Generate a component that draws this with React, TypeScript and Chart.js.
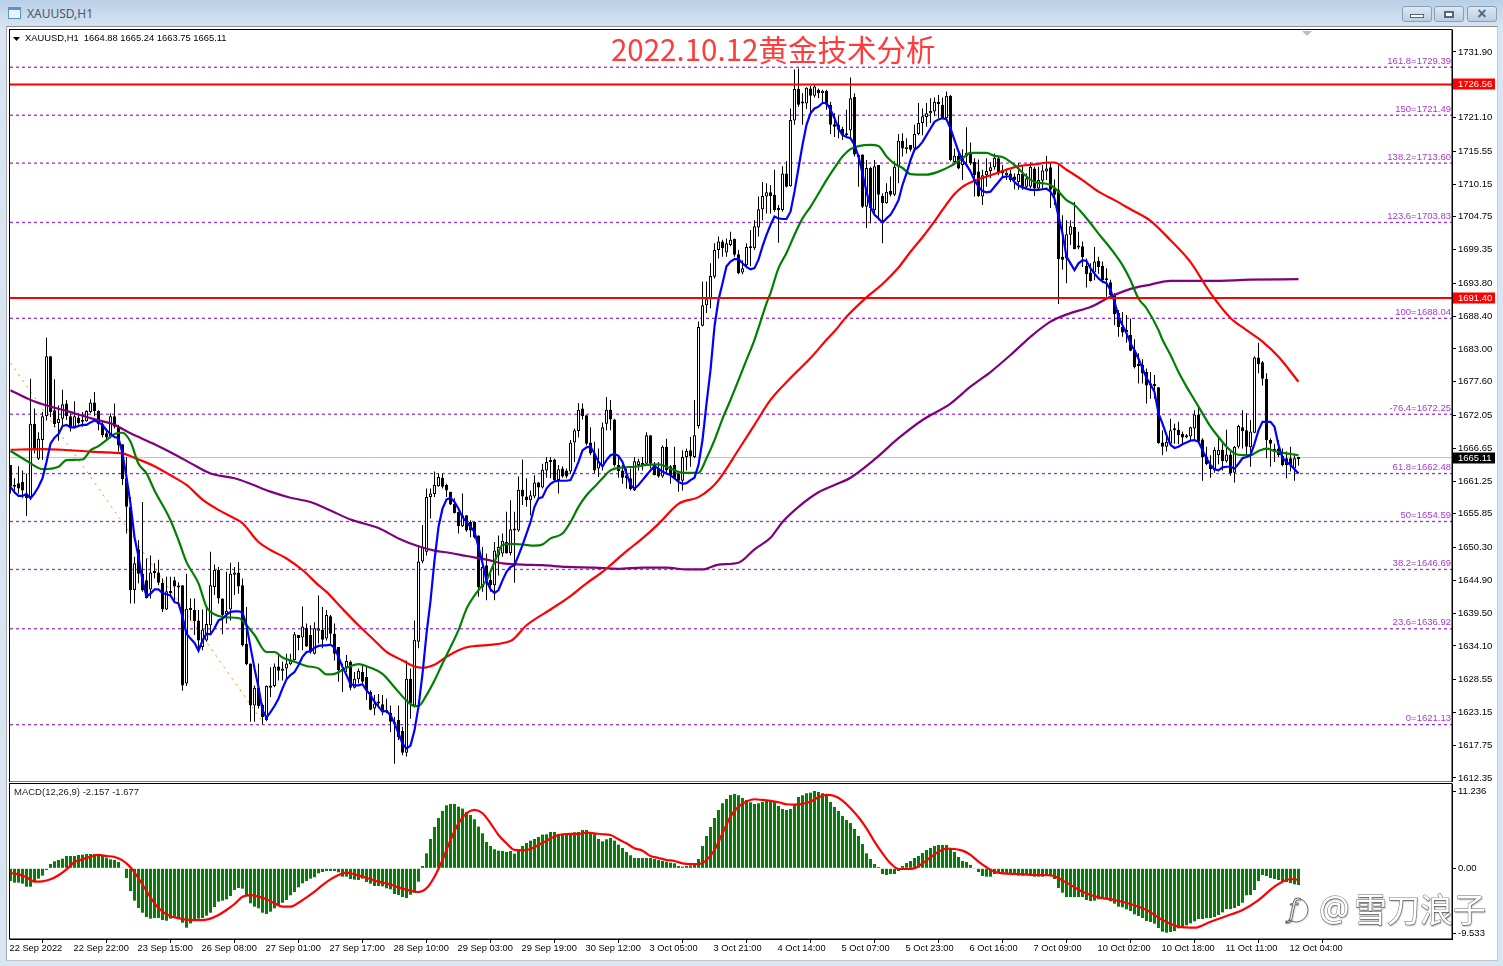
import React, { useEffect, useRef } from "react";
import { Chart, registerables } from "chart.js";

Chart.register(...registerables);

const opens = [
1663.9,1660.6,1660.9,1661.1,1659.2,1658.6,1670.7,1664.9,1668,1671.9,
1681.8,1672.9,1670.8,1671.5,1674,1671.9,1670.2,1671.7,1671.3,1671.1,
1672.6,1674.2,1672.8,1670.6,1669.1,1668.5,1671.9,1670.2,1667.3,1661.7,
1657,1643.3,1650,1646,1644.9,1643.4,1646.1,1646.2,1644.5,1640.1,
1642.8,1644.9,1643.7,1644.1,1627.9,1640.4,1640,1638.3,1633.9,1635,
1637.5,1643.8,1646.6,1641.9,1639.3,1640.1,1645.8,1646.2,1644.1,1634.4,
1631.2,1624.3,1627.2,1624.4,1621.9,1627.2,1627.5,1630.7,1630,1630.4,
1631.1,1631.8,1635.9,1635.5,1637.1,1635.9,1632.8,1636.6,1636.7,1635.3,
1639,1636.1,1633.9,1630.2,1630.6,1631.5,1627.2,1628.6,1629.8,1629,
1626.5,1623.8,1624.9,1624.5,1623.5,1623.1,1621.6,1621.9,1620.1,1616.5,
1628.7,1624.3,1634.8,1648,1649.6,1658.6,1659.1,1660.4,1661.8,1660.6,
1659.5,1657.5,1656.2,1653.8,1655.6,1654.5,1654.5,1652.3,1643.8,1647.4,
1645,1644.1,1649,1649.3,1651.2,1649.4,1653.1,1653.1,1659.8,1658.7,
1658.1,1658.7,1661,1660.2,1663,1664.4,1664.8,1661.4,1663.3,1663,
1662.8,1667.6,1669.5,1673.2,1672.1,1667.6,1665.8,1663.3,1663.6,1670.7,
1673,1671.4,1663.9,1663,1662.2,1661.7,1659.7,1663.9,1664.2,1664.1,
1668.8,1664.1,1663.3,1662,1666.9,1663.7,1663.9,1662.5,1661.3,1665.2,
1666.3,1665.2,1670.3,1686.8,1690.2,1691.2,1694.9,1699.3,1700.7,1698.9,
1700.1,1701.1,1698.6,1695.6,1696.8,1699.6,1699.6,1703,1706,1708.1,
1708.8,1708.4,1705.9,1705.9,1711.9,1709.8,1720.6,1725.8,1723.6,1723.4,
1725.9,1724.7,1725.7,1725.1,1725.5,1723.2,1720,1719.9,1719.2,1718.5,
1719,1724.5,1714.7,1715,1706.4,1712.8,1705.9,1713.3,1708.2,1707,
1709,1708.4,1713,1717.3,1716.2,1716.6,1716,1718.4,1720.2,1721.2,
1721.8,1722.1,1723.7,1723.2,1721,1724.7,1713.8,1714.8,1713.3,1714.7,
1715.2,1713.8,1712.2,1708.1,1711.6,1712.3,1712.9,1714.4,1712.5,1711.6,
1711.9,1711.4,1710.5,1711.8,1709.7,1709.7,1712.7,1709.4,1710.7,1712.2,
1712.9,1709.4,1709.2,1698.2,1697.9,1701.8,1703.1,1699.9,1699.9,1696.7,
1695.6,1695.6,1697.5,1696.7,1694.6,1694,1691.9,1688.9,1686.6,1685.8,
1685.3,1682.8,1680.2,1680.4,1679.2,1677,1676.9,1676.7,1667.6,1666.9,
1667.4,1669.6,1669.7,1669,1668.4,1668.6,1669.9,1672.2,1668.1,1665.3,
1663.9,1663,1665.5,1666.4,1664.5,1665.6,1662.6,1666.9,1670.1,1669.6,
1666.8,1669.2,1681.6,1680.8,1678.1,1668,1666.4,1666.6,1665.4,1665,
1665,1663.3,1664.88];

const closes = [
1660.4,1660.3,1660,1659.7,1658.4,1670.7,1666.3,1668.2,1671.9,1681.8,
1672.6,1670.6,1671.5,1673.9,1671.9,1670.1,1671.9,1670.8,1671,1672.8,
1674.2,1672.8,1670.6,1668.8,1668.4,1671.9,1670.2,1667.2,1661.6,1657,
1643.3,1647.7,1646,1643.3,1642,1646.2,1646.2,1644.5,1640.1,1643.1,
1643.1,1643.9,1644,1627.6,1640.2,1640,1638.2,1635,1636.8,1637.7,
1644.1,1646.6,1641.9,1639.2,1639.9,1646,1646.2,1643.9,1634.2,1631.1,
1624.3,1627.2,1624.2,1622.4,1627.5,1627.6,1630.7,1630,1630.4,1631.2,
1631.7,1636,1635.4,1637.3,1634,1633.1,1637,1637,1635.1,1639.2,
1636.1,1632.8,1630.1,1630,1631.6,1627.2,1628.7,1630,1628.2,1626.8,
1623.6,1624.6,1624.6,1623.2,1623.2,1621.6,1621.3,1619.1,1616.5,1628.7,
1624.6,1635.1,1648,1650.4,1658.6,1659.2,1660.6,1661.9,1660.3,1659.7,
1657.4,1656,1653.8,1655.6,1653.1,1653.1,1652,1643.8,1647.1,1644.9,
1644.1,1649.8,1650.4,1651.4,1649.3,1653.3,1653.3,1659.8,1658.7,1658.1,
1658.9,1661,1660.2,1663.1,1664.4,1664.7,1661.4,1663.2,1662,1662,
1667.6,1669.6,1673,1671.9,1667.4,1665.8,1663,1664.5,1670.1,1673,
1671.4,1663.9,1662.9,1661.8,1661.7,1659.9,1664.5,1664.5,1663.9,1668.8,
1664.1,1662.2,1662,1666.9,1663,1662.2,1661.7,1661.3,1665.2,1666.2,
1665.3,1668.8,1686.6,1690.2,1691.2,1695,1699.3,1700.7,1699.6,1700.4,
1701,1698.5,1695.5,1696.3,1699.8,1699.8,1703.2,1706,1708.2,1708.8,
1708.2,1705.9,1706,1711.9,1709.7,1720.7,1725.8,1723.2,1723.4,1726,
1724.7,1726.2,1725.1,1725.5,1723.2,1719.9,1719.6,1719.1,1718.2,1718.2,
1724.3,1715,1714.6,1706.4,1712.8,1706.2,1713.1,1708.4,1707,1708.9,
1708.4,1713,1717.3,1716,1715.9,1715.8,1718.4,1720.2,1721.3,1721.8,
1722.2,1723.7,1723.3,1721,1724.7,1714.1,1714.8,1712.7,1714.7,1715.3,
1713.6,1711.6,1708.2,1711.6,1712.3,1712.9,1714.5,1712,1711.9,1712,
1710.8,1710.8,1711.8,1709.7,1711.1,1713,1709.4,1710.8,1712.4,1712.7,
1709.2,1708.4,1697.8,1697.7,1701.9,1703.2,1699.4,1699.7,1698.1,1695.3,
1694.2,1697.4,1696.5,1694.3,1694.3,1691.9,1688.7,1686.6,1685.7,1686.1,
1682.7,1680,1680.5,1679,1677,1677.2,1677,1667.5,1666.9,1667.7,
1669.6,1669.8,1668.8,1668.4,1668.8,1670.1,1672.2,1667.7,1665.2,1664,
1663.2,1666.4,1666.4,1664.5,1665.6,1662.5,1666.9,1670.3,1669.5,1666.9,
1669.4,1681.6,1680.5,1678.1,1668,1667.4,1666.2,1665.5,1663.9,1663.9,
1663.9,1665,1665.11];

const highs = [
1663.9,1661.7,1663.7,1663,1662.5,1678.1,1673.2,1669.3,1672.6,1684.9,
1681.8,1678,1673.7,1676.3,1674.6,1672.4,1674.4,1672.4,1672.6,1672.9,
1674.7,1675.9,1672.9,1671.3,1669.9,1672.4,1674,1670.5,1667.3,1665.2,
1658.6,1648.8,1651.5,1657.8,1648.5,1649,1647.7,1648.3,1645.2,1645.5,
1645.5,1645.5,1644.6,1644.1,1646,1641.9,1641.9,1640,1640.1,1640.5,
1649.6,1647.5,1647.1,1641.9,1646.3,1647.8,1647.1,1647.9,1645.2,1640.5,
1631.2,1627.6,1631.2,1624.6,1627.6,1630.6,1631.2,1632.6,1631.5,1632.8,
1632.8,1636.4,1635.9,1640.6,1637.8,1637.5,1638,1642.4,1640.5,1640,
1639.2,1637.8,1633.9,1631.2,1632.6,1631.7,1629.8,1630.4,1630.9,1630.7,
1626.8,1626,1626.2,1626,1625.4,1624.3,1622.4,1624.3,1620.8,1631.7,
1630.4,1638.3,1650.7,1654,1660,1660,1662.8,1662.5,1662.5,1660.8,
1659.5,1658.4,1656.2,1659.2,1655.6,1654.8,1654.5,1652.3,1650.4,1649.3,
1646.3,1651.2,1652.3,1652.6,1656.2,1658.1,1656.2,1662,1664.8,1661.7,
1659.7,1662.2,1661.1,1664.1,1665.2,1665.2,1664.9,1663.9,1663.7,1663.3,
1668,1669.9,1674.1,1674,1672.1,1670.1,1667.7,1666.6,1670.9,1675.1,
1674.6,1671.5,1665.5,1663.9,1663.3,1663.3,1665.2,1664.9,1665.2,1669.3,
1668.8,1664.4,1664.4,1667.1,1668.2,1663.9,1666.9,1662.5,1666.3,1666.6,
1668.5,1674.6,1687.5,1694.1,1694.1,1697.1,1700.4,1701.5,1701,1701.2,
1702.3,1701.2,1699.3,1697.6,1700.4,1702.6,1704.2,1708.1,1710.5,1710.3,
1710,1712.5,1706.7,1713.1,1713.9,1722.6,1729,1729.2,1725.1,1726.1,
1726.3,1726.5,1725.9,1725.7,1725.7,1723.7,1721.8,1721.4,1719.6,1722.4,
1727.7,1725.1,1715,1715,1714.1,1713,1714.1,1713.3,1708.6,1710.3,
1711.4,1713.9,1718.4,1718.5,1717.7,1716.6,1719.9,1723.5,1722.6,1723.5,
1724.3,1724.4,1724.8,1724.4,1725.4,1724.8,1716,1715.9,1715.9,1719.5,
1717,1714.4,1714.2,1712.5,1714.4,1713.8,1715.2,1714.7,1713.3,1712.7,
1712.5,1711.9,1713.6,1713.3,1711.9,1713.7,1713,1713,1713.3,1714.8,
1713.6,1710.9,1713.5,1705,1704.2,1704.2,1707.2,1702.3,1700.7,1697.9,
1697.1,1699.8,1698.2,1697.4,1696.3,1694.4,1692.2,1689.4,1689.1,1688.6,
1688,1684.6,1682.3,1681.3,1679.8,1679.2,1678.7,1676.7,1669.6,1669.1,
1671.5,1670.7,1671,1669.4,1669,1670.2,1672.9,1673.7,1668.3,1666.9,
1665.5,1666.8,1668.6,1667.4,1669.7,1666.1,1667,1670.5,1672.9,1672.4,
1671.3,1681.8,1684,1681,1679,1668.3,1667.4,1668,1666.6,1666.1,
1666.9,1665.5,1665.24];

const lows = [
1659.2,1659.2,1659.2,1658.4,1655.5,1658.1,1665.8,1664.7,1664.7,1671.2,
1671.8,1670.1,1667.9,1670.2,1671.3,1669.4,1669.9,1670.5,1670.2,1671,
1672.4,1671.9,1669.6,1668.4,1668,1668.3,1669.9,1666.1,1660.6,1652.6,
1641.1,1641.1,1644.4,1643,1641.9,1641.9,1645.2,1644.1,1639.7,1640,
1642.5,1641.3,1641,1626.7,1627.5,1638.3,1635.9,1633.1,1633.4,1634.8,
1635.9,1642.5,1641.1,1636,1637.8,1638.3,1642.5,1642.7,1634,1630.9,
1621.6,1621.6,1623.8,1621.2,1621.7,1625.7,1627.3,1628.4,1628.4,1628.7,
1630.9,1631.7,1633.4,1633.4,1633.9,1632.8,1632.7,1634.5,1633.7,1635,
1634.5,1631.7,1628.2,1626.5,1629.8,1626.8,1627.1,1627.9,1627.9,1625.2,
1623.5,1622.7,1624.3,1622.7,1623,1619.9,1614.7,1618.6,1616.1,1615.9,
1622.1,1624,1633.7,1647.7,1649,1655.1,1658.6,1660.3,1660,1658.6,
1657.3,1655.9,1652.6,1653.7,1652.9,1652,1651.8,1642.2,1643,1641.6,
1643,1641.6,1645.7,1648.8,1649.3,1649,1644.5,1652.9,1657.3,1657,
1655.6,1658.4,1658.4,1660,1661.8,1661.7,1661.3,1659.2,1661.8,1661.7,
1662.5,1664.4,1668.4,1671.4,1667.1,1665.5,1662.5,1661.9,1663,1669.6,
1669.6,1663.6,1661.8,1660.8,1660,1659.7,1659.6,1663,1663,1664,
1663.3,1662.2,1661.8,1661.8,1662.5,1660.8,1661.5,1659.5,1659.7,1663,
1663.6,1665,1669.9,1686.7,1688.9,1689.7,1694.6,1697.9,1698.2,1698.2,
1699.9,1698.2,1695.3,1695.3,1696.3,1696.6,1699.3,1701.5,1704.2,1705.3,
1705.3,1705.6,1700.5,1705.6,1709.6,1709.7,1719.9,1722.9,1719.9,1722.5,
1721.5,1724.4,1724.3,1723.5,1722.4,1718.4,1717.9,1717.7,1717.4,1717.7,
1717.7,1714.7,1709.7,1706.2,1702.9,1703.7,1705.1,1704.2,1700.4,1706.9,
1708.1,1708.2,1710.3,1714.7,1715.2,1715.5,1715.9,1718.2,1718.2,1719.6,
1720.2,1721.3,1721,1721,1720.8,1713.9,1713.6,1712.6,1710.8,1713,
1713.3,1708.1,1708,1706.7,1709.7,1711.1,1712.5,1711.6,1711.1,1710.8,
1710.5,1709.3,1709.2,1709.2,1709.3,1709.4,1708.2,1709.2,1709.4,1710.8,
1706.2,1706.7,1690.4,1696.1,1693.8,1700.1,1699.4,1699.4,1696.5,1693.1,
1694.1,1694.3,1695.4,1693.9,1691.6,1691.6,1686.9,1685,1685,1684,
1682.6,1679.8,1677.3,1677.3,1674,1674.8,1674.8,1667.4,1665.5,1666.1,
1667.2,1667.4,1667.3,1667.4,1668.3,1668,1668,1667.4,1661.3,1663.9,
1661.8,1662.6,1664,1663,1664.3,1662.1,1661,1666.6,1666.6,1665.2,
1663.6,1669.1,1679,1677,1665,1663.6,1664.4,1665.2,1663.7,1661.7,
1662.8,1661.3,1663.75];

const ma5 = [
1660.3,1659.4,1658.8,1658.8,1659.1,1658.4,1659.2,1660.3,1661.7,1664.4,
1667.4,1668.4,1669,1670.3,1670.5,1670.1,1670.1,1670.3,1670.5,1670.5,
1670.9,1671.2,1670.9,1670.5,1669.6,1669,1668.5,1668.3,1665.8,1661.9,
1657.5,1652,1648.8,1644.9,1642.2,1642.7,1643.4,1643.4,1642.8,1642.6,
1642.4,1641.3,1641.1,1638.9,1636.1,1635.3,1634.6,1633.3,1635,1636.1,
1636,1637,1638.3,1638.6,1639.2,1639.7,1639.8,1639.8,1639.6,1637.5,
1633.9,1630.4,1627.3,1623.5,1622.3,1623.2,1624.2,1625.4,1627.1,1628.6,
1629.3,1629.8,1630.9,1632.3,1633.1,1633.2,1633.8,1634.1,1634.2,1634.2,
1634.3,1633.8,1632.3,1630.6,1629.3,1627.8,1627.6,1627.6,1627.8,1626.8,
1626,1624.9,1624.1,1623.3,1623.4,1622.7,1621.3,1619.7,1618,1617.2,
1617.7,1620.2,1624.1,1629.5,1636.1,1641.5,1648.2,1653.7,1656.7,1658.2,
1658.5,1657.8,1656.7,1655.3,1654.5,1653.7,1652.9,1650.4,1647.7,1644.9,
1643.4,1642.8,1643.3,1644.9,1646.3,1647.1,1647.4,1649,1650.7,1652.6,
1654.5,1657,1658.4,1658.6,1660,1660.8,1661.2,1661.3,1661.3,1661.3,
1661.4,1662.8,1664.4,1666.3,1666.8,1666.9,1665.8,1664.4,1663.7,1664.7,
1665.5,1665.7,1665.4,1664.4,1662.5,1660.6,1660,1660.6,1661.4,1662.2,
1663,1663.7,1663.3,1662.8,1662.5,1662.2,1661.7,1661.1,1660.8,1660.9,
1661.4,1661.8,1663.9,1668,1674,1679.5,1686.7,1691.1,1693.8,1696.6,
1697.4,1697.8,1697.8,1697.1,1696.5,1696.1,1696.3,1697.7,1699.9,1701.8,
1703.4,1704.8,1704.5,1704.4,1704.4,1705.6,1708.9,1712.8,1716.6,1719.9,
1721.8,1722.6,1722.9,1723.5,1723.5,1722.4,1721,1719.3,1718.2,1717.9,
1717.7,1716.6,1714.7,1711.9,1708.9,1706.4,1705.1,1704.5,1703.8,1704.5,
1705.1,1706.2,1707.5,1710,1711.9,1714.1,1715.8,1716.3,1717.1,1718.2,
1719.3,1720.4,1720.8,1721,1720.8,1719.3,1717.4,1715.5,1714.1,1713.3,
1712.2,1710.8,1709.7,1709,1708.8,1708.9,1709.7,1710.5,1711.3,1711.4,
1711.4,1710.5,1709.9,1709.6,1709.4,1709.2,1709.2,1709.2,1709.3,1709.4,
1708.9,1707.8,1704.8,1702,1698.2,1697.1,1696,1697.1,1697.6,1697.5,
1696.3,1695.4,1694.6,1694.1,1693.8,1692.7,1690.8,1688.3,1686.9,1685.6,
1683.9,1682.8,1681.4,1679.8,1678.2,1677.2,1675.9,1672.4,1670.7,1668.8,
1667.2,1666.7,1666.9,1667.3,1667.6,1667.9,1668,1667.7,1666.3,1665,
1663.9,1663.2,1663,1663.5,1663.6,1663.6,1663.3,1664.1,1665,1665.2,
1665.5,1667.4,1669.6,1671,1671,1671,1670.2,1667.2,1665,1664.4,
1663.9,1663.2,1662.5];

const ma20: [number, number][] = [
[0,1666.2],[4,1664.6],[8,1663.2],[12,1663.6],[14,1664.7],[18,1664.8],[20,1666.3],[22,1667],[24,1668],[26,1669],[28,1669.2],
[30,1667.7],[32,1664.1],[34,1662.5],[36,1659.7],[40,1654.8],[42,1651.5],[44,1647.9],[47,1644.4],[49,1640.5],[50,1639.7],
[54,1638.8],[57,1638.7],[59,1637.5],[61,1635.9],[64,1633.1],[66,1633.1],[68,1632.2],[71,1631.5],[74,1630.8],[77,1630.4],
[79,1629.4],[81,1629.5],[84,1630.5],[87,1631.1],[90,1630.5],[93,1629.5],[96,1627.3],[99,1625.1],[101,1624.2],[102,1624.2],
[104,1626],[106,1628.4],[108,1631.2],[110,1633.9],[112,1636.7],[114,1640.2],[117,1643.3],[119,1644.9],[121,1647.9],[123,1650.7],
[125,1650.9],[128,1650.8],[131,1650.6],[133,1650.8],[135,1651.8],[138,1652.6],[140,1654.5],[142,1657],[144,1658.9],[146,1660.3],
[148,1661.7],[150,1663],[153,1663.5],[156,1663.6],[159,1663.9],[162,1664],[165,1663.3],[168,1662.6],[172,1662.6],[174,1665],
[176,1668],[178,1671.5],[180,1674.6],[184,1681.2],[186,1684.5],[189,1690.5],[190,1692.2],[192,1696.3],[194,1698.8],[196,1701.8],
[198,1704.5],[200,1706.4],[202,1708.6],[204,1710.8],[206,1712.8],[208,1714.7],[210,1715.9],[212,1716.4],[215,1716.6],[217,1716.4],
[219,1714.7],[221,1713.5],[223,1712.8],[225,1711.8],[229,1711.7],[232,1712.2],[235,1713.1],[238,1714.4],[240,1715.3],[244,1715.3],
[246,1714.8],[248,1714.6],[250,1713.8],[252,1712.7],[254,1711.4],[256,1710.5],[258,1710.3],[260,1710],[262,1708.9],[264,1707.5],
[266,1706.7],[268,1705.3],[270,1703.7],[272,1702],[274,1700.4],[276,1698.7],[278,1696.8],[280,1694.3],[282,1691.3],[284,1689.7],
[287,1686.1],[288,1684.5],[290,1682],[292,1679.2],[294,1676.8],[296,1674.6],[298,1672.4],[300,1670.2],[302,1668.5],[304,1666.9],
[306,1665.8],[308,1665.5],[310,1665.5],[312,1666.2],[314,1666.6],[316,1666.2],[318,1665.9],[320,1665.7],[322,1665.5]];

const ma60: [number, number][] = [
[0,1666.4],[8,1666.5],[13,1666.4],[20,1666.1],[26,1665.9],[28,1665.8],[32,1664.8],[36,1663.7],[40,1662.2],[44,1660.6],[48,1658.2],
[52,1656.5],[56,1655.1],[58,1654.3],[62,1651.2],[65,1649.9],[69,1648.5],[73,1646.6],[77,1644.1],[79,1643],[83,1640.2],[87,1637.5],
[91,1635],[94,1633.1],[98,1631.7],[101,1630.7],[103,1630.5],[106,1631],[109,1632.3],[112,1633.4],[115,1634],[125,1634.9],[129,1637.5],
[135,1640.1],[140,1642.3],[144,1644.4],[148,1646.3],[150,1647.4],[154,1649.7],[158,1651.8],[162,1654.2],[167,1657.5],[172,1658.6],
[175,1660],[177,1661.4],[182,1666.4],[186,1670.5],[190,1674.6],[195,1678.2],[200,1681.5],[204,1684.5],[206,1685.9],[209,1688.3],
[214,1691.5],[218,1693.7],[222,1696.4],[225,1699],[228,1701.4],[231,1704],[233,1705.9],[236,1708.5],[238,1709.7],[241,1710.7],
[245,1711.6],[249,1712.5],[252,1713.1],[256,1713.4],[260,1713.7],[261,1713.7],[264,1712.5],[268,1710.8],[272,1708.9],[276,1707.5],
[280,1706],[285,1704.1],[290,1700.9],[295,1697.3],[300,1692.2],[305,1688.1],[309,1686.1],[313,1684.2],[317,1681.7],[322,1677.6]];

const ma200: [number, number][] = [
[0,1676.2],[5,1674.6],[10,1673.5],[14,1672.8],[20,1671.6],[26,1670.5],[30,1669.1],[36,1667.3],[42,1665.3],[45,1664.2],[50,1662.5],
[56,1661.7],[60,1660.8],[65,1659.5],[70,1658.5],[75,1657.8],[80,1656.4],[85,1654.9],[92,1653.5],[97,1651.8],[102,1650.5],[106,1649.8],
[110,1649.4],[114,1648.9],[119,1648.3],[123,1647.7],[128,1647.5],[133,1647.4],[139,1647.1],[146,1647],[152,1646.8],[158,1647],
[164,1647],[169,1646.7],[173,1646.7],[177,1647.5],[182,1647.8],[186,1650],[190,1651.9],[193,1654.5],[197,1657],[202,1659.4],[206,1660.6],
[210,1661.8],[216,1664.8],[222,1668.3],[228,1671.3],[235,1674],[240,1676.8],[245,1679.2],[250,1682],[255,1685],[260,1687.5],[265,1688.9],
[270,1689.9],[275,1691.6],[280,1692.9],[285,1693.6],[290,1694.2],[300,1694.2],[310,1694.4],[322,1694.5]];

const macdHist = [
-1.85,-2.09,-2.09,-2.24,-2.68,-2.68,-1.85,-1.51,-1.07,-0.24,
0.63,1.02,1.22,1.41,1.8,1.8,1.8,1.95,2,2.09,
2.09,2.09,1.95,1.8,1.56,1.31,1.22,0.93,0.05,-1.41,
-3.31,-4.72,-5.8,-6.48,-7.11,-7.35,-7.26,-7.26,-7.55,-7.65,
-7.35,-7.26,-7.45,-7.94,-8.67,-8.04,-7.55,-7.35,-7.26,-6.92,
-6.48,-5.65,-4.87,-4.72,-4.53,-4.04,-3.17,-2.87,-2.97,-3.9,
-5.11,-5.6,-5.84,-6.48,-6.67,-6.33,-5.84,-5.36,-5.02,-4.63,
-3.94,-3.46,-2.78,-2.19,-1.85,-1.51,-1.31,-0.73,-0.54,-0.39,
-0.39,-0.39,-0.58,-1.22,-1.22,-1.56,-1.66,-1.7,-1.51,-2,
-2.24,-2.58,-2.58,-2.63,-2.92,-3.07,-3.75,-3.9,-4.19,-4.33,
-3.85,-3.56,-1.95,0.34,2.19,4.29,6.04,7.35,8.38,9.2,
9.4,9.4,9,8.72,8.23,7.79,7.16,6.09,5.11,3.85,
3.26,2.78,2.58,2.53,2.39,2.53,2.14,2.58,3.26,3.7,
4.04,4.29,4.58,4.92,4.97,5.31,5.31,5.02,4.92,4.92,
5.06,5.26,5.31,5.6,5.6,5.31,4.97,4.29,3.94,4.24,
4.43,4.04,3.46,2.97,2.39,1.9,1.51,1.51,1.51,1.51,
1.51,1.36,1.22,1.07,0.97,0.83,0.73,0.34,0.24,0.34,
0.44,0.54,1.36,3.26,4.72,6.04,7.35,8.52,9.5,10.13,
10.71,10.86,10.67,10.28,9.98,9.64,9.4,9.5,9.69,9.84,
9.89,9.79,9.11,8.67,8.52,8.67,9.4,10.42,10.67,10.96,
11.05,11.3,11.15,10.96,10.67,9.69,8.96,8.38,7.65,7.06,
6.62,5.75,4.72,3.56,2.19,1.36,0.63,0.19,-0.83,-0.97,
-0.83,-0.83,-0.39,0.34,0.78,1.07,1.51,1.8,2.24,2.68,
2.97,3.26,3.41,3.41,3.41,2.97,2.39,1.66,1.07,0.93,
0.49,-0.1,-0.54,-1.12,-1.22,-1.22,-0.83,-0.68,-0.83,-0.83,
-0.83,-0.83,-1.07,-1.07,-0.97,-0.97,-1.22,-1.22,-1.22,-1.12,
-1.12,-1.56,-2.87,-3.56,-4.19,-4.19,-4.19,-4.19,-4.19,-4.63,
-4.77,-4.72,-4.53,-4.43,-4.53,-4.82,-5.16,-5.6,-5.7,-5.99,
-6.23,-6.72,-6.96,-7.26,-7.69,-7.84,-8.08,-8.72,-9.25,-9.4,
-9.3,-9.16,-8.77,-8.57,-8.33,-8.04,-7.74,-7.4,-7.4,-7.26,
-7.26,-7.11,-6.82,-6.43,-5.94,-5.94,-5.8,-5.5,-5.02,-3.94,
-3.9,-3.17,-1.85,-0.97,-1.12,-1.41,-1.56,-1.7,-1.85,-2,
-2.14,-2.34,-2.44];

const macdSignal: [number, number][] = [
[0,-0.68],[2,-0.88],[4,-1.31],[6,-1.95],[8,-1.9],[10,-1.61],[12,-1.02],[14,-0.15],[16,0.93],[18,1.31],[20,1.7],[22,1.95],[24,1.8],[26,1.66],
[28,1.17],[30,0.15],[32,-1.46],[34,-3.31],[36,-5.11],[38,-6.33],[40,-7.01],[42,-7.26],[44,-7.5],[46,-7.55],[48,-7.55],[50,-7.35],[52,-6.82],
[54,-6.09],[56,-5.21],[58,-4.14],[60,-3.9],[62,-4.14],[64,-4.53],[66,-5.11],[68,-5.6],[70,-5.6],[72,-5.02],[74,-4.24],[76,-3.41],[78,-2.44],
[80,-1.61],[82,-0.97],[84,-0.63],[86,-0.88],[88,-1.22],[90,-1.56],[92,-1.95],[94,-2.19],[96,-2.58],[98,-2.97],[100,-3.26],[102,-3.46],[104,-2.92],
[106,-1.22],[108,1.22],[110,4.14],[112,6.57],[114,8.04],[116,8.52],[118,8.04],[120,6.57],[122,4.87],[124,3.65],[126,2.68],[128,2.63],[130,2.82],
[132,3.41],[134,4.04],[136,4.63],[138,4.97],[140,5.02],[142,5.02],[144,5.21],[146,5.11],[148,4.97],[150,4.87],[152,4.24],[154,3.65],[156,2.92],
[158,2.58],[160,1.8],[162,1.51],[164,1.22],[166,1.07],[168,0.73],[170,0.63],[172,0.63],[174,1.22],[176,2.68],[178,5.11],[180,7.55],[182,9],
[184,9.74],[186,10.08],[188,9.98],[190,9.84],[192,9.64],[194,9.35],[196,9.3],[198,9.4],[200,9.74],[202,10.37],[204,10.71],[206,10.57],[208,9.89],
[210,8.77],[212,7.45],[214,5.84],[216,3.9],[218,2.19],[220,0.73],[222,-0.1],[224,-0.1],[226,0],[228,0.73],[230,1.61],[232,2.44],[234,2.87],[236,2.82],
[238,2.58],[240,1.95],[242,0.97],[244,0.15],[246,-0.49],[248,-0.73],[252,-0.83],[256,-0.97],[260,-1.02],[264,-2.09],[268,-3.41],[272,-4.24],
[276,-4.63],[280,-5.21],[284,-6.09],[288,-7.55],[292,-8.52],[296,-8.67],[300,-7.79],[304,-6.96],[308,-6.09],[312,-4.63],[316,-2.68],[320,-1.56],[322,-1.68]];

const fibLevels = [1729.39,1721.49,1713.60,1703.83,1688.04,1672.25,1662.48,1654.59,1646.69,1636.92,1621.13];
const fibNames = ["161.8","150","138.2","123.6","100","-76.4","61.8","50","38.2","23.6","0"];
const redLevels = [1726.56,1691.40];
const currentPrice = 1665.11;
const priceTicks = [1731.90,1721.10,1715.55,1710.15,1704.75,1699.35,1693.80,1688.40,1683.00,1677.60,1672.05,1666.65,1661.25,1655.85,1650.30,1644.90,1639.50,1634.10,1628.55,1623.15,1617.75,1612.35];
const macdTicks = [11.236,0,-9.533];
const macdTickLabels = ["11.236","0.00","-9.533"];
const timeLabels = ["22 Sep 2022","22 Sep 22:00","23 Sep 15:00","26 Sep 08:00","27 Sep 01:00","27 Sep 17:00","28 Sep 10:00","29 Sep 03:00","29 Sep 19:00","30 Sep 12:00","3 Oct 05:00","3 Oct 21:00","4 Oct 14:00","5 Oct 07:00","5 Oct 23:00","6 Oct 16:00","7 Oct 09:00","10 Oct 02:00","10 Oct 18:00","11 Oct 11:00","12 Oct 04:00"];
const trendLine: [number, number][] = [[0,1680.7],[63.5,1621.13]];
const titleText = "2022.10.12黄金技术分析";
const quoteText = "XAUUSD,H1  1664.88 1665.24 1663.75 1665.11";
const macdText = "MACD(12,26,9) -2.157 -1.677";

const xMin = -0.125;
const xMax = 360.375;
const labelFont = '"Liberation Sans", Arial, sans-serif';

const pts = (rows: [number, number][]) => rows.map(([x, y]) => ({ x, y }));
const hline = (y: number) => [{ x: xMin, y }, { x: xMax, y }];
const lineDs = (data: any, color: string, order: number, extra: any = {}) => ({
  type: "line", data, borderColor: color, borderWidth: 2.2, pointRadius: 0, tension: 0, order, fill: false, ...extra,
});
const smooth = { cubicInterpolationMode: "monotone" };

const mainPlugin = {
  id: "mainOverlay",
  afterDraw(chart: any) {
    const { ctx, chartArea: a, scales } = chart;
    const y = scales.y;
    ctx.save();
    ctx.strokeStyle = "#000";
    ctx.lineWidth = 1;
    ctx.strokeRect(a.left - 0.5, a.top - 0.5, a.right - a.left + 0.5, a.bottom - a.top + 0.5);
    ctx.textBaseline = "middle";
    // fibonacci labels
    ctx.font = `9.5px ${labelFont}`;
    ctx.fillStyle = "#A838D0";
    ctx.textAlign = "right";
    fibLevels.forEach((p, k) => {
      ctx.fillText(`${fibNames[k]}=${p.toFixed(2)}`, a.right - 1, y.getPixelForValue(p) - 6);
    });
    // price boxes
    const box = (p: number, bg: string) => {
      const py = Math.round(y.getPixelForValue(p));
      ctx.fillStyle = bg;
      ctx.fillRect(a.right + 1, py - 5.5, 42, 11);
      ctx.fillStyle = "#fff";
      ctx.textAlign = "left";
      ctx.fillText(p.toFixed(2), a.right + 6, py);
    };
    redLevels.forEach((p) => box(p, "#FF0000"));
    box(currentPrice, "#000");
    // quote label
    ctx.fillStyle = "#000";
    ctx.beginPath();
    ctx.moveTo(13, 37); ctx.lineTo(20, 37); ctx.lineTo(16.5, 41); ctx.closePath(); ctx.fill();
    ctx.textAlign = "left";
    ctx.font = `9.4px ${labelFont}`;
    ctx.fillText(quoteText, 25, 38.5);
    // shift marker
    ctx.fillStyle = "#BDBDBD";
    ctx.beginPath();
    ctx.moveTo(1302, 31); ctx.lineTo(1312, 31); ctx.lineTo(1307, 36); ctx.closePath(); ctx.fill();
    // title
    ctx.fillStyle = "#FF3B3B";
    ctx.textAlign = "left";
    ctx.font = '29.5px "Noto Sans CJK SC", sans-serif';
    ctx.fillText(titleText, 611, 50);
    ctx.restore();
  },
};

const macdPlugin = {
  id: "macdOverlay",
  afterDraw(chart: any) {
    const { ctx, chartArea: a } = chart;
    ctx.save();
    ctx.strokeStyle = "#000";
    ctx.lineWidth = 1;
    ctx.strokeRect(a.left - 0.5, a.top - 0.5, a.right - a.left + 0.5, a.bottom - a.top + 0.5);
    ctx.fillStyle = "#222";
    ctx.textBaseline = "middle";
    ctx.textAlign = "left";
    ctx.font = `9.5px ${labelFont}`;
    ctx.fillText(macdText, 14, a.top + 8.5);
    // watermark
    const base = 143;
    ctx.textBaseline = "alphabetic";
    ctx.lineWidth = 0.9;
    ctx.strokeStyle = "rgba(60,60,60,0.75)";
    ctx.shadowColor = "rgba(0,0,0,0.35)";
    ctx.shadowBlur = 1.5;
    ctx.shadowOffsetX = 0.6;
    ctx.shadowOffsetY = 0.6;
    ctx.fillStyle = "#fff";
    ctx.font = '33px "Noto Sans CJK SC", sans-serif';
    ctx.strokeText("雪刀浪子", 1354, base - 3);
    ctx.fillText("雪刀浪子", 1354, base - 3);
    ctx.font = '34px "Noto Sans", sans-serif';
    ctx.strokeText("@", 1319, base - 4);
    ctx.fillText("@", 1319, base - 4);
    ctx.beginPath();
    ctx.arc(1296, base - 15, 12, -1.2, 2.2);
    ctx.quadraticCurveTo(1290, base - 4, 1285, base - 2);
    ctx.stroke();
    ctx.font = 'italic 26px "Noto Sans", sans-serif';
    ctx.strokeText("f", 1289, base - 8);
    ctx.restore();
  },
};

const tickFont = { family: labelFont, size: 9.5 };
const fitRight = (s: any) => { s.width = 51; s.paddingTop = 0; s.paddingBottom = 0; };
const fitBottom = (s: any) => { s.height = 27; s.paddingLeft = 0; s.paddingRight = 0; };

export default function App() {
  const mainRef = useRef<HTMLCanvasElement>(null);
  const macdRef = useRef<HTMLCanvasElement>(null);

  useEffect(() => {
    document.body.style.margin = "0";
    document.body.style.background = "#D8E6F3";
    const idx = opens.map((_, i) => i);
    const main = new Chart(mainRef.current as any, {
      type: "bar",
      plugins: [mainPlugin],
      data: {
        datasets: [
          ...fibLevels.map((p) => lineDs(hline(p), "#9932CC", 60, { borderWidth: 1.3, borderDash: [3, 3] })),
          lineDs(hline(currentPrice), "#C0C0C0", 55, { borderWidth: 1 }),
          lineDs(pts(trendLine), "#FF8C00", 52, { borderWidth: 1, borderDash: [2, 5] }),
          { type: "bar", order: 40, grouped: false, barThickness: 1, backgroundColor: "#000", borderWidth: 0, inflateAmount: 0,
            data: idx.map((i) => ({ x: i, y: [lows[i], highs[i]] })) },
          { type: "bar", order: 30, grouped: false, barThickness: 3, minBarLength: 2, inflateAmount: 0, borderSkipped: false, borderWidth: 1, borderColor: "#000",
            backgroundColor: idx.map((i) => (closes[i] >= opens[i] ? "#fff" : "#000")),
            data: idx.map((i) => ({ x: i, y: [Math.min(opens[i], closes[i]), Math.max(opens[i], closes[i])] })) },
          lineDs(pts(ma200), "#800080", 16, smooth),
          lineDs(pts(ma60), "#FF0000", 14, smooth),
          lineDs(pts(ma20), "#008000", 12, smooth),
          lineDs(ma5.map((y, x) => ({ x, y })), "#0000FF", 10),
          ...redLevels.map((p) => lineDs(hline(p), "#FF0000", 5, { borderWidth: 2 })),
        ] as any,
      },
      options: {
        responsive: false,
        devicePixelRatio: 1,
        animation: false,
        events: [],
        layout: { padding: { left: 10, right: 0, top: 30, bottom: 0 } },
        plugins: { legend: { display: false }, tooltip: { enabled: false }, title: { display: false } },
        scales: {
          x: { type: "linear", min: xMin, max: xMax, display: false, offset: false, grid: { display: false } },
          y: {
            type: "linear", position: "right", min: 1611.69, max: 1735.52,
            afterFit: fitRight,
            afterBuildTicks: (s: any) => { s.ticks = priceTicks.map((value) => ({ value })); },
            border: { color: "#000" },
            grid: { drawOnChartArea: false, tickLength: 4, color: "#000" },
            ticks: { color: "#000", font: tickFont, padding: 2, autoSkip: false, callback: (v: any) => Number(v).toFixed(2) },
          },
        },
      } as any,
    });

    const macd = new Chart(macdRef.current as any, {
      type: "bar",
      plugins: [macdPlugin],
      data: {
        datasets: [
          { type: "bar", order: 20, grouped: false, barThickness: 3, backgroundColor: "#087C08", borderWidth: 0, inflateAmount: 0,
            data: macdHist.map((y, x) => ({ x, y })) },
          lineDs(pts(macdSignal), "#FF0000", 5, smooth),
        ] as any,
      },
      options: {
        responsive: false,
        devicePixelRatio: 1,
        animation: false,
        events: [],
        layout: { padding: { left: 10, right: 0, top: 2, bottom: 0 } },
        plugins: { legend: { display: false }, tooltip: { enabled: false }, title: { display: false } },
        scales: {
          x: {
            type: "linear", min: xMin, max: xMax, offset: false, position: "bottom",
            afterFit: fitBottom,
            afterBuildTicks: (s: any) => { s.ticks = timeLabels.map((_, k) => ({ value: k * 16 })); },
            border: { color: "#000" },
            grid: { drawOnChartArea: false, tickLength: 4, color: "#000" },
            ticks: { color: "#000", font: { family: labelFont, size: 9.3 }, align: "start", maxRotation: 0, autoSkip: false, padding: 0, labelOffset: -1,
              callback: (_v: any, i: number) => timeLabels[i] },
          },
          y: {
            type: "linear", position: "right", min: -10.32, max: 12.31,
            afterFit: fitRight,
            afterBuildTicks: (s: any) => { s.ticks = macdTicks.map((value) => ({ value })); },
            border: { color: "#000" },
            grid: { drawOnChartArea: false, tickLength: 4, color: "#000" },
            ticks: { color: "#000", font: tickFont, padding: 2, autoSkip: false, callback: (_v: any, i: number) => macdTickLabels[i] },
          },
        },
      } as any,
    });
    return () => { main.destroy(); macd.destroy(); };
  }, []);

  const btn = (left: number, glyph: React.ReactNode) => (
    <div style={{ position: "absolute", left, top: 6, width: 30, height: 16, boxSizing: "border-box", border: "1px solid #8A9DB3", borderRadius: 3,
      background: "linear-gradient(#DCE8F4,#BBCEE2)", display: "flex", alignItems: "center", justifyContent: "center" }}>{glyph}</div>
  );

  return (
    <div style={{ position: "relative", width: 1503, height: 966, overflow: "hidden", background: "#D8E6F3" }}>
      <div style={{ position: "absolute", left: 0, top: 0, width: 1503, height: 27, background: "linear-gradient(#B9CFE6,#D6E5F3)" }} />
      <div style={{ position: "absolute", left: 8, top: 7, width: 13, height: 12, boxSizing: "border-box", border: "1px solid #5B93C7", background: "#EAF3FB", borderTop: "3px solid #5B93C7" }} />
      <div style={{ position: "absolute", left: 27, top: 5, font: '12px "Noto Sans", sans-serif', color: "#4A5A6C", lineHeight: "18px" }}>XAUUSD,H1</div>
      {btn(1402, <div style={{ width: 12, height: 2, border: "1px solid #55657A", background: "#fff", marginTop: 4 }} />)}
      {btn(1434, <div style={{ width: 6, height: 3, border: "2px solid #55657A", background: "#fff" }} />)}
      {btn(1467, <div style={{ font: 'bold 16px "Liberation Sans", sans-serif', color: "#55657A", lineHeight: "14px" }}>×</div>)}
      <div style={{ position: "absolute", left: 6, top: 26, width: 1492, height: 935, boxSizing: "border-box", background: "#fff", borderTop: "1px solid #8F8F8F", borderLeft: "1px solid #A8A8A8", borderRight: "1px solid #C8C8C8", borderBottom: "1px solid #C8C8C8" }} />
      <canvas ref={mainRef} width={1503} height={782} style={{ position: "absolute", left: 0, top: 0 }} />
      <canvas ref={macdRef} width={1503} height={184} style={{ position: "absolute", left: 0, top: 782 }} />
    </div>
  );
}
